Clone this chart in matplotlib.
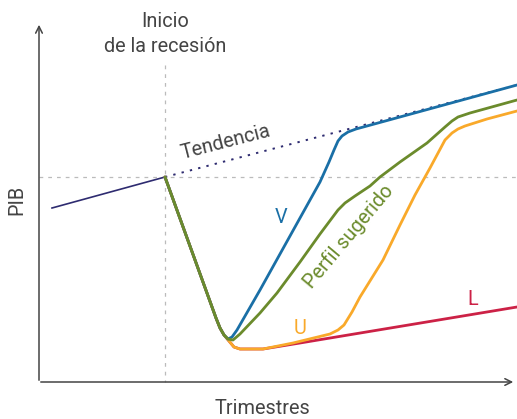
import matplotlib
matplotlib.use("Agg")
import matplotlib.pyplot as plt

# Coordinates (x: quarters axis in px, y: PIB in px, downwards)
pre_x = [52, 165]
pre_y = [208, 177]

trend_x = [165, 517]
trend_y = [177, 85]

desc_x = [165, 216, 220, 224, 228]
desc_y = [177, 318, 328, 335, 339]

v_x = desc_x + [232, 237, 260, 300, 320, 329, 334, 338, 342, 348, 356, 517]
v_y = desc_y + [337, 330, 290, 218, 182, 162, 150, 141, 136, 132, 129, 85]

g_x = desc_x + [233, 240, 260, 277, 300, 320, 338, 345, 355, 370, 380, 400, 427, 445, 452, 458, 470, 517]
g_y = desc_y + [340, 334, 313, 293, 262, 234, 210, 203, 196, 186, 177, 162, 143, 127, 121, 117, 113, 100]

u_x = desc_x[:-1] + [229, 234, 240, 263, 293, 330, 338, 344, 352, 360, 383, 400, 415, 430, 445, 452, 458, 465, 487, 517]
u_y = desc_y[:-1] + [341, 347, 349, 349, 343, 334, 330, 325, 312, 297, 260, 225, 195, 168, 140, 133, 129, 126, 119, 111]

l_x = desc_x[:-1] + [229, 234, 240, 263, 300, 517]
l_y = desc_y[:-1] + [341, 347, 349, 349, 343, 307]

FONT = ["Roboto", "DejaVu Sans"]
plt.rcParams["font.family"] = FONT

fig = plt.figure(figsize=(5.17, 4.19), dpi=100)
ax = fig.add_axes([0, 0, 1, 1])
ax.set_xlim(0, 517)
ax.set_ylim(419, 0)
ax.axis("off")

C_NAVY = "#2e2b70"
C_BLUE = "#1a6fa6"
C_GREEN = "#6b8b2c"
C_ORANGE = "#f9a92a"
C_RED = "#cc2146"
C_TXT = "#444444"
FS = 14.3

# reference lines
ax.plot([165, 165], [65, 382], color="#bbbbbb", lw=0.9, ls=(0, (3, 4)), zorder=1)
ax.plot([39, 517], [177, 177], color="#bbbbbb", lw=0.9, ls=(0, (3, 4)), zorder=1)

# axes with arrows
ax.annotate("", xy=(39, 22), xytext=(39, 383),
            arrowprops=dict(arrowstyle="->", color="#444444", lw=1.1, mutation_scale=12))
ax.annotate("", xy=(516, 382), xytext=(38, 382),
            arrowprops=dict(arrowstyle="->", color="#444444", lw=1.1, mutation_scale=12))

ax.plot(pre_x, pre_y, color=C_NAVY, lw=1.2, zorder=3)
ax.plot(trend_x, trend_y, color=C_NAVY, lw=1.4, ls=(0, (1.2, 3.2)), zorder=3)

ax.plot(l_x, l_y, color=C_RED, lw=2.0, solid_capstyle="round", zorder=4)
ax.plot(u_x, u_y, color=C_ORANGE, lw=2.0, solid_capstyle="round", zorder=5)
ax.plot(v_x, v_y, color=C_BLUE, lw=2.0, solid_capstyle="round", zorder=6)
ax.plot(g_x, g_y, color=C_GREEN, lw=2.0, solid_capstyle="round", zorder=7)

ax.text(165, 34, "Inicio\nde la recesión", ha="center", va="center",
        fontsize=FS, color=C_TXT, linespacing=1.45)
ax.text(226, 142, "Tendencia", ha="center", va="center", rotation=14.5,
        fontsize=FS, color=C_TXT)
ax.text(281, 217, "V", ha="center", va="center", fontsize=FS, color=C_BLUE)
ax.text(349, 237, "Perfil sugerido", ha="center", va="center", rotation=50,
        fontsize=FS, color=C_GREEN)
ax.text(300, 328, "U", ha="center", va="center", fontsize=FS, color=C_ORANGE)
ax.text(473, 299, "L", ha="center", va="center", fontsize=FS, color=C_RED)
ax.text(17, 200, "PIB", ha="center", va="center", rotation=90, fontsize=FS, color=C_TXT)
ax.text(262, 408, "Trimestres", ha="center", va="center", fontsize=FS, color=C_TXT)

fig.savefig("out.png", dpi=100)
